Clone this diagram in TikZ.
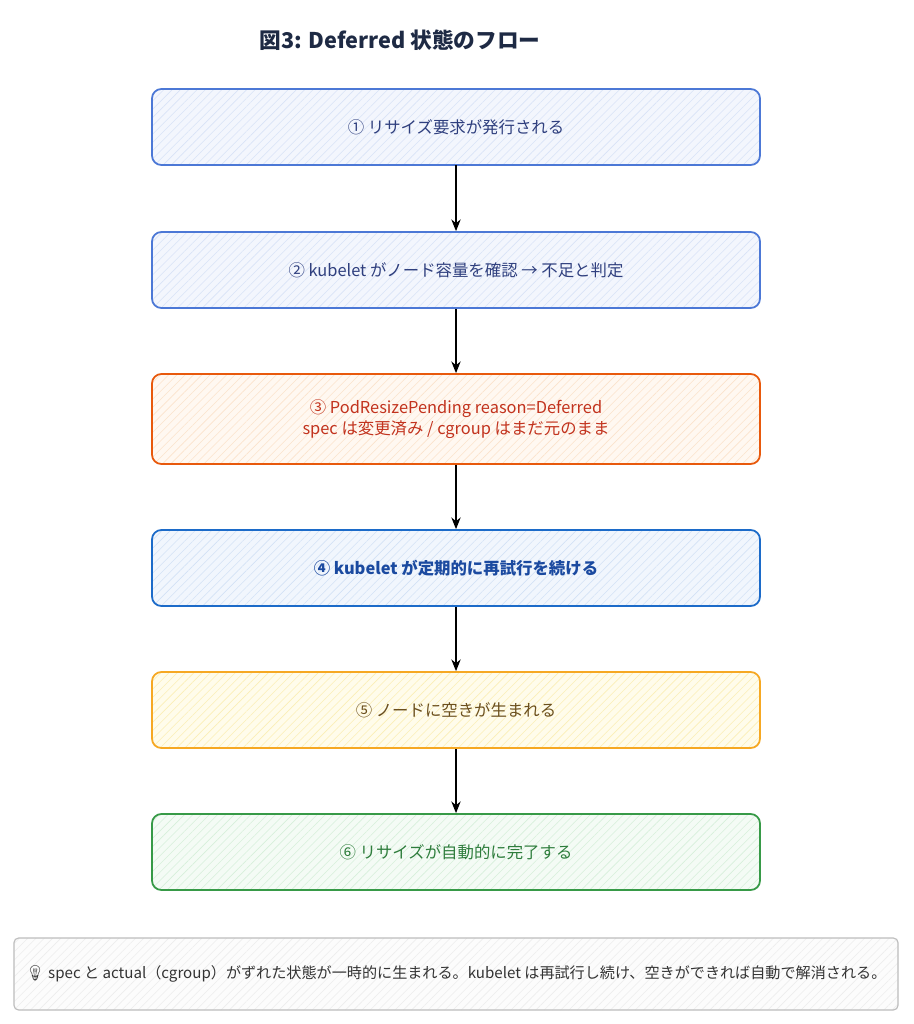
\documentclass[tikz,border=0pt]{standalone}
\usepackage{fontspec}
\setmainfont{Noto Sans CJK JP}
\newfontfamily\emojifont{Noto Emoji}
\usetikzlibrary{arrows.meta}
\usetikzlibrary{positioning}
\usetikzlibrary{patterns.meta}

\definecolor{reqline}{HTML}{4C78D6}
\definecolor{reqfill}{HTML}{F3F6FD}
\definecolor{reqhatch}{HTML}{D9E3F7}
\definecolor{reqtext}{HTML}{2F3F7E}
\definecolor{pendline}{HTML}{E8590C}
\definecolor{pendfill}{HTML}{FFF8F1}
\definecolor{pendhatch}{HTML}{FBE3CC}
\definecolor{pendtext}{HTML}{C2331E}
\definecolor{retryline}{HTML}{1C6BC9}
\definecolor{retryfill}{HTML}{F1F6FD}
\definecolor{retryhatch}{HTML}{D3E2F6}
\definecolor{retrytext}{HTML}{1B4AA0}
\definecolor{freeline}{HTML}{F6A823}
\definecolor{freefill}{HTML}{FFFCEB}
\definecolor{freehatch}{HTML}{FBEFB6}
\definecolor{freetext}{HTML}{6B4F1D}
\definecolor{doneline}{HTML}{379A47}
\definecolor{donefill}{HTML}{F4FBF5}
\definecolor{donehatch}{HTML}{D7EFDB}
\definecolor{donetext}{HTML}{2E7D3C}
\definecolor{noteline}{HTML}{BDBDBD}
\definecolor{notefill}{HTML}{FCFCFC}
\definecolor{notehatch}{HTML}{EDEDED}
\definecolor{notetext}{HTML}{333333}
\definecolor{titletext}{HTML}{1E2A44}

\tikzset{
  stepbox/.style={rounded corners=8pt, line width=1.5pt,
    minimum width=18.24cm, minimum height=2.28cm, align=center,
    font=\fontsize{14}{18}\selectfont},
  hatch/.style 2 args={preaction={fill=#1},
    pattern={Lines[angle=45,distance=5pt,line width=0.5pt]}, pattern color=#2},
  reqbox/.style={stepbox, draw=reqline, hatch={reqfill}{reqhatch}, text=reqtext},
  pendbox/.style={stepbox, draw=pendline, hatch={pendfill}{pendhatch}, text=pendtext,
    minimum height=2.7cm},
  retrybox/.style={stepbox, draw=retryline, hatch={retryfill}{retryhatch}, text=retrytext,
    font=\fontsize{14}{18}\selectfont\bfseries},
  freebox/.style={stepbox, draw=freeline, hatch={freefill}{freehatch}, text=freetext},
  donebox/.style={stepbox, draw=doneline, hatch={donefill}{donehatch}, text=donetext},
  notebox/.style={rounded corners=4pt, line width=1pt, draw=noteline,
    hatch={notefill}{notehatch}, text=notetext,
    minimum width=26.52cm, minimum height=2.16cm,
    font=\fontsize{12.9}{15}\selectfont},
  flow/.style={-{Stealth[length=10pt,width=8pt]}, line width=1.1pt}
}

\begin{document}
\begin{tikzpicture}[x=0.03cm,y=-0.03cm]
\useasboundingbox[fill=white] (0,0) rectangle (913,1024);

\node[text=titletext, font=\fontsize{18.5}{22}\selectfont\bfseries]
  (title) at (400,40) {図3: Deferred 状態のフロー};

\node[reqbox]   (request) at (456,127) {① リサイズ要求が発行される};
\node[reqbox]   (check)   at (456,270) {② kubelet がノード容量を確認 → 不足と判定};
\node[pendbox]  (pending) at (456,419) {③ PodResizePending reason=Deferred\\spec は変更済み / cgroup はまだ元のまま};
\node[retrybox] (retry)   at (456,568) {④ kubelet が定期的に再試行を続ける};
\node[freebox]  (free)    at (456,710) {⑤ ノードに空きが生まれる};
\node[donebox]  (done)    at (456,852) {⑥ リサイズが自動的に完了する};

\node[notebox]  (note)    at (456,974)
  {{\emojifont 💡}\ spec と actual（cgroup）がずれた状態が一時的に生まれる。kubelet は再試行し続け、空きができれば自動で解消される。};

\draw[flow] (request) -- (check);
\draw[flow] (check) -- (pending);
\draw[flow] (pending) -- (retry);
\draw[flow] (retry) -- (free);
\draw[flow] (free) -- (done);
\end{tikzpicture}
\end{document}
